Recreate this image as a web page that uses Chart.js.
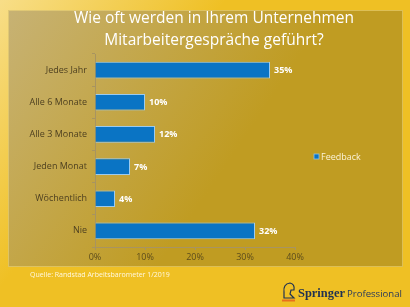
<!DOCTYPE html>
<html><head><meta charset="utf-8">
<script src="https://cdn.jsdelivr.net/npm/chart.js@4"></script>
<style>html,body{margin:0;padding:0;background:#efc020}#w{width:410px;height:307px}</style>
</head><body><div id="w"><canvas id="c" width="410" height="307"></canvas></div>
<script>
const categories = ['Jedes Jahr','Alle 6 Monate','Alle 3 Monate','Jeden Monat','Wöchentlich','Nie'];
const feedback = [35,10,12,7,4,32];
const xTicks = [0,10,20,30,40];
const seriesName = 'Feedback';
const titleLines = ['Wie oft werden in Ihrem Unternehmen','Mitarbeitergespräche geführt?'];
const source = 'Quelle: Randstad Arbeitsbarometer 1/2019';

const FONT = '"Open Sans", "Noto Sans", sans-serif';

function fitFont(ctx, text, base, family, weight, width) {
  ctx.font = weight + ' ' + base + 'px ' + family;
  const w = ctx.measureText(text).width;
  const size = base * width / w;
  ctx.font = weight + ' ' + size + 'px ' + family;
}

const bgPlugin = {
  id: 'bg',
  beforeDraw(chart) {
    const ctx = chart.ctx;
    ctx.save();
    let g = ctx.createLinearGradient(0,0,140,110);
    g.addColorStop(0,'#f8de88'); g.addColorStop(1,'#efc024');
    ctx.fillStyle = g; ctx.fillRect(0,0,410,307);
    g = ctx.createLinearGradient(8,10,230,160);
    g.addColorStop(0,'#c7b274'); g.addColorStop(1,'#c09c22');
    ctx.fillStyle = g; ctx.fillRect(8,10,395,257);
    ctx.strokeStyle = 'rgba(240,215,120,0.6)'; ctx.lineWidth = 1;
    ctx.strokeRect(8.5,10.5,394,256);
    // title
    ctx.fillStyle = '#ffffff';
    ctx.font = '15.5px ' + FONT;
    ctx.textAlign = 'center'; ctx.textBaseline = 'middle';
    ctx.fillText(titleLines[0], 214, 19);
    ctx.fillText(titleLines[1], 214, 41);
    // source
    ctx.font = '7px ' + FONT; ctx.textAlign = 'left';
    ctx.fillStyle = '#fff8e0';
    ctx.fillText(source, 30, 275);
    // logo
    ctx.textBaseline = 'alphabetic';
    ctx.fillStyle = '#1f3152';
    fitFont(ctx, 'Springer', 12, '"Liberation Serif", "DejaVu Serif", serif', 'bold', 47);
    ctx.fillText('Springer', 298, 297);
    ctx.fillStyle = '#2a3a5c';
    fitFont(ctx, 'Professional', 12, '"Open Sans", sans-serif', 'normal', 55);
    ctx.fillText('Professional', 347, 297);
    // horse icon (simple)
    ctx.strokeStyle = '#1f3152'; ctx.lineWidth = 1.2;
    ctx.beginPath();
    ctx.moveTo(284,298); ctx.lineTo(284,292); ctx.quadraticCurveTo(283,284,290,283);
    ctx.quadraticCurveTo(295,284,294,290); ctx.lineTo(291,290); ctx.lineTo(290,294); ctx.lineTo(294,298); ctx.closePath();
    ctx.stroke();
    ctx.fillStyle = '#e8701c'; ctx.fillRect(282,299.5,13,2);
    ctx.restore();
  },
  afterDatasetsDraw(chart) {
    const ctx = chart.ctx;
    const meta = chart.getDatasetMeta(0);
    ctx.save();
    ctx.font = 'bold 9px ' + FONT;
    ctx.fillStyle = '#ffffff';
    ctx.textAlign = 'left'; ctx.textBaseline = 'middle';
    meta.data.forEach((bar, i) => {
      ctx.fillText(chart.data.datasets[0].data[i] + '%', bar.x + 4, bar.y + 0.5);
    });
    // legend
    ctx.fillStyle = '#0a74c4';
    ctx.fillRect(314, 154, 5, 5);
    ctx.strokeStyle = '#8ec4ea'; ctx.lineWidth = 0.8; ctx.strokeRect(314,154,5,5);
    ctx.fillStyle = '#fbf3d8';
    ctx.font = '9px ' + FONT;
    ctx.fillText(chart.data.datasets[0].label, 321, 157);
    ctx.restore();
  }
};

new Chart(document.getElementById('c'), {
  type: 'bar',
  data: {
    labels: categories,
    datasets: [{
      label: seriesName,
      data: feedback,
      backgroundColor: '#0a74c4',
      borderColor: '#9ccbee',
      borderWidth: 1,
      barPercentage: 0.52,
      categoryPercentage: 1
    }]
  },
  options: {
    indexAxis: 'y',
    responsive: false,
    animation: false,
    devicePixelRatio: 1,
    layout: { padding: { left: 8, right: 115, top: 54, bottom: 40 } },
    plugins: { legend: { display: false }, title: { display: false }, tooltip: { enabled: false } },
    scales: {
      x: {
        min: 0, max: 40,
        afterBuildTicks(s) { s.ticks = xTicks.map(v => ({ value: v })); },
        afterFit(s) { s.height = 20; },
        ticks: { callback: v => v + '%', color: '#5c4c1c', font: { family: FONT, size: 9 }, padding: 2 },
        grid: { drawOnChartArea: false, tickLength: 3, color: '#a89460' },
        border: { color: '#a89460' }
      },
      y: {
        afterFit(s) { s.width = 87; },
        ticks: { color: '#4e4020', font: { family: FONT, size: 9 }, padding: 5 },
        grid: { drawOnChartArea: false, offset: true, tickLength: 3, color: '#a89460' },
        border: { color: '#a89460' }
      }
    }
  },
  plugins: [bgPlugin]
});
</script></body></html>
